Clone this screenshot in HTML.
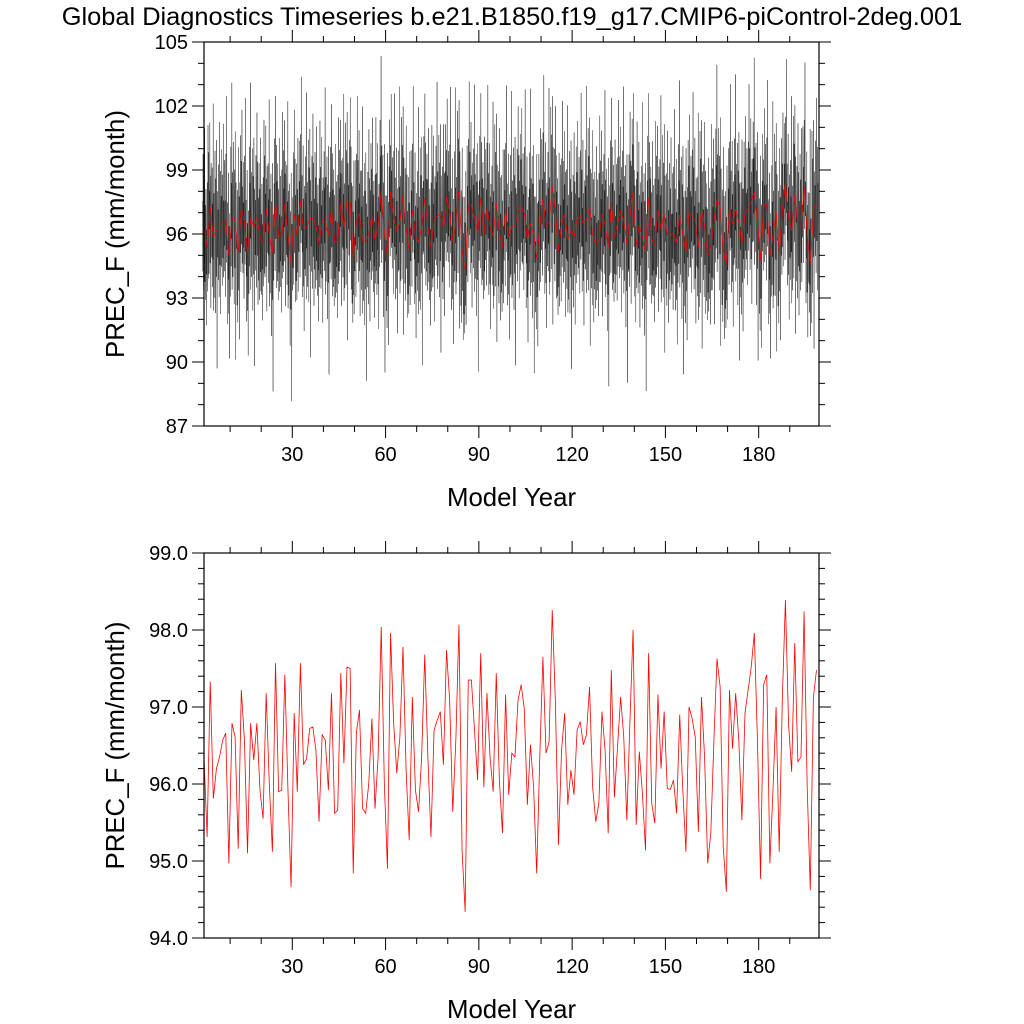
<!DOCTYPE html>
<html><head><meta charset="utf-8"><style>
html,body{margin:0;padding:0;background:#fff;}
svg{display:block;font-family:"Liberation Sans",Arial,sans-serif;}
</style></head><body>
<svg id="chart" width="1024" height="1024" viewBox="0 0 1024 1024" xmlns="http://www.w3.org/2000/svg">
<rect width="1024" height="1024" fill="#fff"/>
<text x="512" y="25" font-size="25.4" text-anchor="middle">Global Diagnostics Timeseries b.e21.B1850.f19_g17.CMIP6-piControl-2deg.001</text>
<g id="top"></g>
<g id="bot"></g>
</svg>
<script>
const annualMeans = [96.35,95.31,97.33,95.81,96.20,96.35,96.57,96.66,94.97,96.79,96.61,95.16,97.22,96.57,95.10,96.79,96.31,96.79,95.92,95.55,97.18,96.01,95.12,97.57,95.90,95.92,97.42,95.92,94.66,96.92,95.90,97.57,96.25,96.33,96.72,96.74,96.44,95.51,96.64,96.57,95.92,97.18,95.62,95.66,97.44,96.27,97.52,97.50,94.84,96.66,96.96,95.68,
95.62,96.01,96.85,95.68,96.35,98.04,96.01,94.90,97.96,96.79,96.14,96.61,97.78,96.18,95.27,97.13,95.92,95.64,96.35,97.68,96.35,95.31,96.70,96.83,96.94,96.25,97.74,97.09,95.64,96.57,98.07,95.14,94.34,97.35,97.35,96.70,96.05,97.70,95.96,97.18,96.35,95.90,97.44,96.05,95.36,97.16,95.86,96.40,96.35,97.09,
97.29,96.98,95.73,96.51,95.96,94.84,96.35,97.65,96.40,96.55,98.26,97.09,95.21,96.44,96.92,95.73,96.18,95.86,96.70,96.81,96.51,96.64,97.26,95.96,95.51,95.75,96.94,96.44,95.36,97.48,95.83,96.48,97.13,96.61,95.53,96.83,98.00,95.47,96.42,95.88,95.14,97.70,95.75,95.49,97.16,96.20,96.94,95.94,95.93,96.05,
95.62,96.90,95.92,95.12,97.00,96.85,96.61,95.38,97.13,96.35,94.97,95.36,96.57,97.63,97.26,95.18,94.60,97.22,96.46,97.18,96.57,95.53,96.92,97.22,97.52,97.96,96.57,94.77,97.29,97.42,94.97,95.92,97.00,95.12,97.09,98.39,96.79,96.16,97.83,96.29,96.35,98.24,95.96,94.62,97.13,97.48];
const monthlyAnom = [1.2,-2.1,3.4,-0.8,-3.0,2.2,0.5,-1.7,4.6,-2.6,1.0,-0.3,-2.4,2.8,-1.2,0.9,-3.6,1.7,3.1,-0.6,-2.0,5.8,-1.4,0.2,2.5,-3.2,0.7,-1.1,3.9,-2.7,1.4,-0.4,-4.8,2.0,0.3,-1.9,-0.9,3.3,-2.3,1.6,-1.0,6.3,-3.4,0.6,2.1,-2.8,-0.2,1.1,3.7,-1.5,-3.9,2.4,0.1,-2.2,4.2,-0.7,-6.5,1.8,0.4,-1.3,0.8,-2.5,2.9,-0.1,-3.3,1.5,4.9,-1.8,-0.5,2.6,-4.1,0.9];
const xTicks = [30,60,90,120,150,180];
const topYTicks = [87,90,93,96,99,102,105];
const botYTicks = [94,95,96,97,98,99];
const xStart = 1.6;
const NS = "http://www.w3.org/2000/svg";
function mk(p, tag, attrs){const e=document.createElementNS(NS,tag);for(const k in attrs)e.setAttribute(k,attrs[k]);p.appendChild(e);return e;}

function panel(g, top, bottom, ymin, ymax, yTicks, minorStep, labelFmt, drawBlack){
  const L=204,R=819,xmin=1.6,xmax=199.4;
  const X=v=>L+(v-xmin)/(xmax-xmin)*(R-L);
  const Y=v=>bottom-(v-ymin)/(ymax-ymin)*(bottom-top);
  const tk=mk(g,'g',{stroke:'#000','stroke-width':1});
  
  
  for(let v=10;v<xmax;v+=10){const x=X(v);const len=(v%30===0)?12:6;
    mk(tk,'line',{x1:x,y1:bottom,x2:x,y2:bottom+len});mk(tk,'line',{x1:x,y1:top,x2:x,y2:top-len});}
  for(let v=ymin;v<=ymax+1e-6;v+=minorStep){const y=Y(v);const maj=yTicks.some(t=>Math.abs(t-v)<1e-6);const len=maj?12:6;
    mk(tk,'line',{x1:L,y1:y,x2:L-len,y2:y});mk(tk,'line',{x1:R,y1:y,x2:R+len,y2:y});}
  xTicks.forEach(t=>{const e=mk(g,'text',{x:X(t),y:bottom+35,'font-size':20,'text-anchor':'middle'});e.textContent=t;
    
    });
  yTicks.forEach(t=>{const e=mk(g,'text',{x:L-16,y:Y(t)+7,'font-size':20,'text-anchor':'end'});e.textContent=labelFmt(t);
    
    });
  if(drawBlack){
    let d='';let n=annualMeans.length*12;
    for(let m=0;m<n;m++){const yr=Math.floor(m/12);const v=annualMeans[yr]+monthlyAnom[m%monthlyAnom.length];
      const x=X(xStart-0.5+m/12+1/24);d+=(m?'L':'M')+x.toFixed(2)+' '+Y(v).toFixed(2);}
    const p=mk(g,'path',{d:d,fill:'none',stroke:'#000','stroke-width':0.35});
    
    
  }
  let d2='';annualMeans.forEach((v,i)=>{d2+=(i?'L':'M')+X(xStart+i).toFixed(2)+' '+Y(v).toFixed(2);});
  const r=mk(g,'path',{d:d2,fill:'none',stroke:'#f00','stroke-width':drawBlack?0.7:0.8});
  
  
  const fr=mk(g,'rect',{x:L,y:top,width:R-L,height:bottom-top,fill:'none',stroke:'#000','stroke-width':1.2});
  
  
  const yt=mk(g,'text',{x:0,y:0,'font-size':25.8,'text-anchor':'middle',transform:`translate(124 ${(top+bottom)/2}) rotate(-90)`});
  yt.textContent='PREC_F (mm/month)';
  
  
  const xt=mk(g,'text',{x:(L+R)/2,y:bottom+80,'font-size':25.8,'text-anchor':'middle'});
  xt.textContent='Model Year';
  
  
}
panel(document.getElementById('top'),42,426,87,105,topYTicks,1,t=>String(t),true);
panel(document.getElementById('bot'),553,938,94,99,botYTicks,0.2,t=>t.toFixed(1),false);
</script>
</body></html>
